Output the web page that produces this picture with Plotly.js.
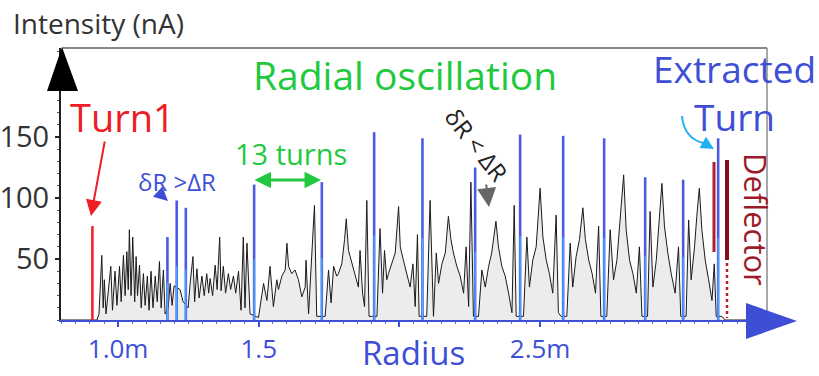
<!DOCTYPE html>
<html>
<head>
<meta charset="utf-8">
<script src="https://cdn.plot.ly/plotly-3.0.1.min.js"></script>
<style>html,body{margin:0;padding:0;background:#fff;}#chart{width:819px;height:376px;}</style>
</head>
<body>
<div id="chart"></div>
<script>
// ---- data ----
const traceR = [0.797,0.925,0.932,0.942,0.947,0.951,0.957,0.964,0.974,0.980,0.989,0.996,1.005,1.011,1.019,1.025,1.031,1.036,1.040,1.046,1.052,1.059,1.064,1.069,1.076,1.082,1.090,1.096,1.104,1.110,1.117,1.124,1.132,1.139,1.147,1.153,1.161,1.167,1.178,1.185,1.192,1.199,1.220,1.231,1.249,1.256,1.266,1.272,1.280,1.288,1.298,1.306,1.315,1.322,1.327,1.336,1.345,1.352,1.361,1.366,1.374,1.382,1.392,1.400,1.410,1.418,1.428,1.437,1.445,1.451,1.458,
1.469,1.499,1.517,1.529,1.540,1.552,1.564,1.570,1.582,1.594,1.600,1.606,1.617,1.629,1.641,1.653,1.665,1.668,1.677,1.689,1.698,1.706,1.736,1.748,1.757,1.766,1.777,1.783,1.795,1.805,1.811,1.819,1.831,1.843,1.854,1.860,1.869,1.876,1.884,1.892,1.920,1.931,1.940,1.947,1.955,1.961,1.973,1.985,1.997,2.003,2.014,2.026,2.038,2.048,2.056,2.064,2.070,2.097,
2.109,2.121,2.131,2.139,2.151,2.163,2.174,2.183,2.192,2.204,2.216,2.228,2.237,2.246,2.254,2.263,2.281,2.293,2.305,2.317,2.328,2.343,2.352,2.364,2.376,2.388,2.400,2.408,2.415,2.441,2.453,2.462,2.474,2.486,2.500,2.510,2.522,2.533,2.545,2.557,2.565,2.574,2.595,2.607,2.616,2.628,2.640,2.652,2.661,2.673,2.685,2.697,2.708,2.716,2.737,
2.749,2.761,2.773,2.785,2.797,2.806,2.818,2.830,2.842,2.853,2.862,2.882,2.891,2.901,2.913,2.925,2.933,2.942,2.954,2.966,2.980,2.992,3.000,3.019,3.028,3.037,3.049,3.057,3.066,3.075,3.087,3.099,3.111,3.119,3.126,3.146,3.158,3.303];
const traceI = [0,0,5,53,10,33,5,20,44,8,40,12,44,15,53,20,56,25,74,20,68,15,52,20,45,10,38,12,36,8,40,10,36,15,48,10,41,5,10,30,12,28,25,15,10,30,52,15,42,18,36,20,38,22,34,20,45,25,68,24,44,22,38,25,36,22,40,8,68,10,63,
5,2,30,16,44,11,33,25,36,41,63,44,38,41,33,19,27,49,5,52,94,3,3,41,14,44,36,38,46,66,83,57,46,36,27,57,22,11,98,3,3,75,22,57,33,38,46,55,93,60,49,38,27,46,11,70,3,3,
98,3,55,30,46,55,85,66,55,44,36,22,60,11,113,3,3,41,27,44,55,81,60,44,36,22,6,94,3,3,68,27,49,60,108,68,49,38,22,86,6,3,3,63,27,52,66,92,66,49,38,22,77,3,3,
74,33,49,82,119,74,49,38,22,60,3,3,89,27,49,87,112,77,55,38,22,60,3,3,82,33,60,85,108,74,49,33,16,46,3,3,0,0];

const turnR = [1.1753,1.2083,1.2407,1.4835,1.7241,1.9101,2.0818,2.2691,2.4291,2.5820,2.7277,2.8735,3.0085,3.1329];
const turnI = [68,98,92,111,113,154,149,125,152,151,149,117,115,149];
const firstTurnR = [0.9086];
const firstTurnI = [77];

const xTickVals = [1.0,1.5,2.0,2.5];
const xTickText = ['1.0m','1.5','','2.5m'];
const yTickVals = [50,100,150];
const yTickText = ['50','100','150'];

// ---- build traces ----
function spikes(rs, hs, frac){
  const x=[], y=[];
  rs.forEach((r,i)=>{ x.push(r,r,null); y.push(0,hs[i]*frac,null); });
  return {x,y};
}
const blue = spikes(turnR, turnI, 1);
const cyan = spikes(turnR, turnI, 0.45);
const red = spikes(firstTurnR, firstTurnI, 1);

const FONT = 'Open Sans';
const BLUE = '#3e4fd6';
const GREEN = '#22c93e';

const data = [
  {x: traceR, y: traceI, type:'scatter', mode:'lines', fill:'tozeroy',
   fillcolor:'#ececec', line:{color:'#1a1a1a', width:1}, hoverinfo:'skip'},
  {x: blue.x, y: blue.y, type:'scatter', mode:'lines', line:{color:'#4a5be2', width:2.6}},
  {x: cyan.x, y: cyan.y, type:'scatter', mode:'lines', line:{color:'#46b4ff', width:1.2}},
  {x: red.x, y: red.y, type:'scatter', mode:'lines', line:{color:'#ee1c24', width:2.5}}
];

// pixel -> paper helpers for decorations
const L=61, T=48, W=705, H=272;
const px = v => (v-L)/W;
const py = v => (T+H-v)/H;

const annotations = [
  {text:'Intensity (nA)', x:px(11), y:py(23), xref:'paper', yref:'paper', xanchor:'left', yanchor:'middle', showarrow:false, font:{family:FONT, size:28, color:'#333'}},
  {text:'Radial oscillation', x:px(405), y:py(74), xref:'paper', yref:'paper', xanchor:'center', yanchor:'middle', showarrow:false, font:{family:FONT, size:39, color:GREEN}},
  {text:'Turn1', x:px(122), y:py(117), xref:'paper', yref:'paper', xanchor:'center', yanchor:'middle', showarrow:false, font:{family:FONT, size:38, color:'#ee1c24'}},
  {text:'Extracted<br>Turn', x:px(734), y:py(92), xref:'paper', yref:'paper', xanchor:'center', yanchor:'middle', align:'center', showarrow:false, font:{family:FONT, size:37, color:BLUE}},
  {text:'13 turns', x:px(291), y:py(153), xref:'paper', yref:'paper', xanchor:'center', yanchor:'middle', showarrow:false, font:{family:FONT, size:29, color:GREEN}},
  {text:'δR >ΔR', x:px(177), y:py(181), xref:'paper', yref:'paper', xanchor:'center', yanchor:'middle', showarrow:false, font:{family:FONT, size:24, color:BLUE}},
  {text:'δR < ΔR', x:px(477), y:py(144), xref:'paper', yref:'paper', xanchor:'center', yanchor:'middle', showarrow:false, textangle:52, font:{family:FONT, size:24, color:'#222'}},
  {text:'Deflector', x:px(756), y:py(219), xref:'paper', yref:'paper', xanchor:'center', yanchor:'middle', showarrow:false, textangle:90, font:{family:FONT, size:31, color:'#9b1b2a'}},
  {text:'Radius', x:px(413), y:py(352), xref:'paper', yref:'paper', xanchor:'center', yanchor:'middle', showarrow:false, font:{family:FONT, size:33, color:BLUE}},
  // arrows
  {text:'', x:px(91), y:py(216), xref:'paper', yref:'paper', showarrow:true, ax:14, ay:-76, arrowcolor:'#ee1c24', arrowwidth:2, arrowhead:2, arrowsize:1.6},
  {text:'', x:px(168), y:py(201), xref:'paper', yref:'paper', showarrow:true, ax:-11, ay:-10, arrowcolor:BLUE, arrowwidth:2, arrowhead:2, arrowsize:1.4},
  {text:'', x:px(321), y:py(180), xref:'paper', yref:'paper', showarrow:true, ax:-68, ay:0, arrowside:'end+start', arrowcolor:GREEN, arrowwidth:3, arrowhead:2, arrowsize:1.1},
  {text:'', x:px(489), y:py(207), xref:'paper', yref:'paper', showarrow:true, ax:-3, ay:-24, arrowcolor:'#666', arrowwidth:2, arrowhead:2, arrowsize:1.9},
  {text:'', x:px(714), y:py(149), xref:'paper', yref:'paper', showarrow:true, ax:-12, ay:-7, arrowcolor:'#22b0f0', arrowwidth:2, arrowhead:2, arrowsize:1.3}
];

const shapes = [
  // frame top & right
  {type:'line', xref:'paper', yref:'paper', x0:px(62), x1:px(767), y0:py(48), y1:py(48), line:{color:'#8a8a8a', width:2}},
  {type:'line', xref:'paper', yref:'paper', x0:px(767), x1:px(767), y0:py(48), y1:py(318), line:{color:'#8a8a8a', width:1.5}},
  // y axis arrow
  {type:'path', xref:'paper', yref:'paper', path:`M ${px(47)} ${py(91)} L ${px(62)} ${py(47)} L ${px(78)} ${py(91)} Z`, fillcolor:'#000', line:{width:0}},
  // x axis arrow
  {type:'path', xref:'paper', yref:'paper', path:`M ${px(746)} ${py(303)} L ${px(797)} ${py(321)} L ${px(746)} ${py(339)} Z`, fillcolor:BLUE, line:{width:0}},
  // deflector bars
  {type:'line', xref:'paper', yref:'paper', x0:px(714), x1:px(714), y0:py(162), y1:py(252), line:{color:'#b0202e', width:3}},
  {type:'line', xref:'paper', yref:'paper', x0:px(727), x1:px(727), y0:py(160), y1:py(260), line:{color:'#8a0a18', width:4}},
  {type:'line', xref:'paper', yref:'paper', x0:px(727), x1:px(727), y0:py(263), y1:py(318), line:{color:'#b0202e', width:2.5, dash:'dot'}},
  // curved cyan arrow tail
  {type:'path', xref:'paper', yref:'paper', path:`M ${px(682)} ${py(116)} Q ${px(684)} ${py(138)} ${px(703)} ${py(143)}`, line:{color:'#22b0f0', width:2}}
];

const layout = {
  width:819, height:376,
  margin:{l:L, r:819-L-W, t:T, b:376-T-H},
  paper_bgcolor:'#fff', plot_bgcolor:'#fff',
  showlegend:false,
  font:{family:FONT},
  xaxis:{range:[0.797,3.303], tickvals:xTickVals, ticktext:xTickText, showgrid:false, zeroline:false,
         showline:true, linecolor:BLUE, linewidth:1.5, ticks:'outside', ticklen:5, tickwidth:2, tickcolor:BLUE,
         tickfont:{family:FONT, size:26, color:BLUE},
         minor:{dtick:0.05, ticks:'outside', ticklen:2, tickcolor:'#6070d8', tickwidth:1}},
  yaxis:{range:[0,223], tickvals:yTickVals, ticktext:yTickText, showgrid:false, zeroline:false,
         showline:true, linecolor:'#222', linewidth:2, ticks:'outside', ticklen:4, tickwidth:1.5, tickcolor:'#222',
         tickfont:{family:FONT, size:29, color:'#333'},
         minor:{dtick:10, ticks:'outside', ticklen:2, tickcolor:'#555', tickwidth:1}},
  annotations, shapes
};

Plotly.newPlot('chart', data, layout, {staticPlot:true, displayModeBar:false});
</script>
</body>
</html>
